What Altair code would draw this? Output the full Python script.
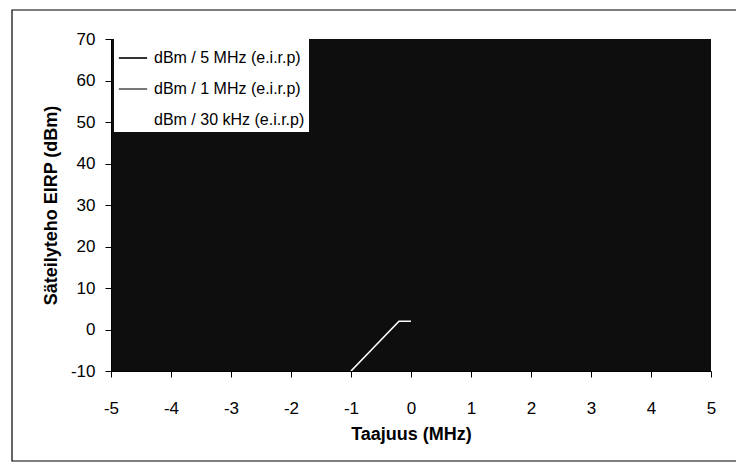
import altair as alt
import pandas as pd

# Series names (legend order)
series_names = ["dBm / 5 MHz (e.i.r.p)", "dBm / 1 MHz (e.i.r.p)", "dBm / 30 kHz (e.i.r.p)"]
series_colors = ["#000000", "#555555", "#ffffff"]

# Visible trace (white, 30 kHz series)
freq_mhz = [-1.0, -0.2, 0.0]
eirp_dbm = [-10.0, 2.0, 2.0]

x_ticks = [-5, -4, -3, -2, -1, 0, 1, 2, 3, 4, 5]
y_ticks = [-10, 0, 10, 20, 30, 40, 50, 60, 70]

df = pd.DataFrame({
    "freq": freq_mhz,
    "eirp": eirp_dbm,
    "series": [series_names[2]] * len(freq_mhz),
})

FONT = "Liberation Sans"

line = alt.Chart(df).mark_line(strokeWidth=1.6, clip=True).encode(
    x=alt.X("freq:Q", title="Taajuus (MHz)",
            scale=alt.Scale(domain=[-5, 5], nice=False, zero=False),
            axis=alt.Axis(values=x_ticks, grid=False, tickSize=6, tickColor="#000",
                          domainColor="#000", labelFontSize=17, labelPadding=23,
                          labelExpr="datum.value + ''",
                          labelFont=FONT, labelColor="#000", titleFont=FONT,
                          titleFontSize=18, titleFontWeight="bold", titleColor="#000",
                          titlePadding=9, labelFlush=False)),
    y=alt.Y("eirp:Q", title="Säteilyteho EIRP (dBm)",
            scale=alt.Scale(domain=[-10, 70], nice=False, zero=False),
            axis=alt.Axis(values=y_ticks, grid=False, tickSize=6, tickColor="#000",
                          domainColor="#000", labelFontSize=17, labelPadding=10,
                          labelExpr="datum.value + ''",
                          labelFont=FONT, labelColor="#000", titleFont=FONT,
                          titleFontSize=18, titleFontWeight="bold", titleColor="#000",
                          titlePadding=10)),
    color=alt.Color("series:N", sort=series_names,
                    scale=alt.Scale(domain=series_names, range=series_colors),
                    legend=alt.Legend(title=None, orient="none", legendX=3, legendY=0,
                                      fillColor="#ffffff", padding=4,
                                      symbolType="stroke", symbolSize=800,
                                      symbolStrokeWidth=1.6, rowPadding=8,
                                      labelFont=FONT, labelFontSize=16,
                                      labelColor="#000", labelOffset=6,
                                      labelLimit=300)),
)

frame = alt.Chart(pd.DataFrame({"k": [0]})).mark_rect(
    fill=None, stroke="#000", strokeWidth=1.2, clip=False
).encode(
    x=alt.value(-99), x2=alt.value(660), y=alt.value(-29), y2=alt.value(422)
)

chart = alt.layer(frame, line).properties(
    width=600, height=332,
    autosize=alt.AutoSizeParams(type="none"),
    padding={"left": 103, "top": 31, "right": 25, "bottom": 91},
    background="#ffffff",
).configure_view(fill="#0e0e0e", stroke=None)

chart.save("out.html", embed_options={"renderer": "svg", "actions": False})
